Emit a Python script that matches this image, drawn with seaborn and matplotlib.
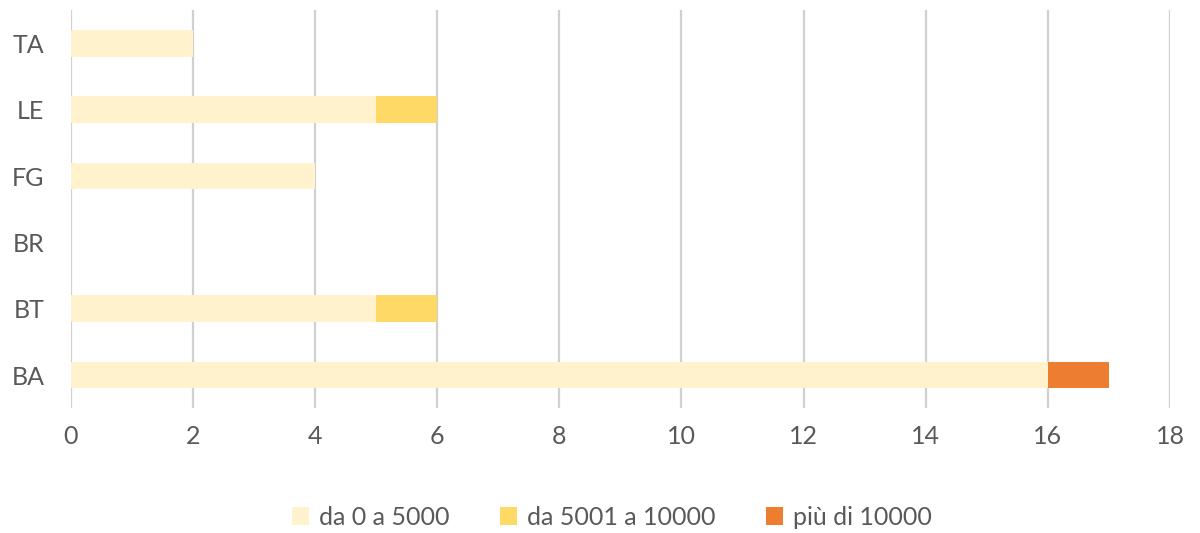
import matplotlib
matplotlib.use("Agg")
import matplotlib.pyplot as plt
import seaborn as sns
import numpy as np

# Province labels and counts per class
provinces = ["BA", "BT", "BR", "FG", "LE", "TA"]
da_0_a_5000 = [16, 5, 0, 4, 5, 2]
da_5001_a_10000 = [0, 1, 0, 0, 1, 0]
piu_di_10000 = [1, 0, 0, 0, 0, 0]

series_names = ["da 0 a 5000", "da 5001 a 10000", "più di 10000"]
colors = ["#FFF2CC", "#FFD966", "#ED7D31"]

sns.set_theme(style="white")
plt.rcParams["font.family"] = ["Lato", "DejaVu Sans"]

fig = plt.figure(figsize=(12, 5.33), dpi=100)
ax = fig.add_axes([0.059, 0.234, 0.916, 0.747])

pos = np.arange(len(provinces))
left = np.zeros(len(provinces))
for name, vals, col in zip(series_names, [da_0_a_5000, da_5001_a_10000, piu_di_10000], colors):
    vals = np.array(vals, dtype=float)
    ax.barh(pos, vals, left=left, height=0.4, color=col, label=name,
            linewidth=0, zorder=3)
    left += vals

ax.set_xlim(0, 18)
ax.set_ylim(-0.5, len(provinces) - 0.5)
ax.set_xticks(range(0, 19, 2))
ax.set_yticks(pos)
ax.set_yticklabels(provinces)
ax.tick_params(axis="both", length=0, labelsize=18, colors="#595959")
ax.tick_params(axis="x", pad=12)
ax.tick_params(axis="y", pad=19)
ax.grid(axis="x", color="#D0D0D0", linewidth=1.6, zorder=0)
ax.grid(axis="y", visible=False)
for s in ax.spines.values():
    s.set_visible(False)

fig.legend(loc="center", bbox_to_anchor=(0.51, 0.03), ncol=3, frameon=False,
           fontsize=18, labelcolor="#595959", handlelength=0.7, handleheight=0.7,
           handletextpad=0.4, columnspacing=2.0)

fig.savefig("out.png", dpi=100)
